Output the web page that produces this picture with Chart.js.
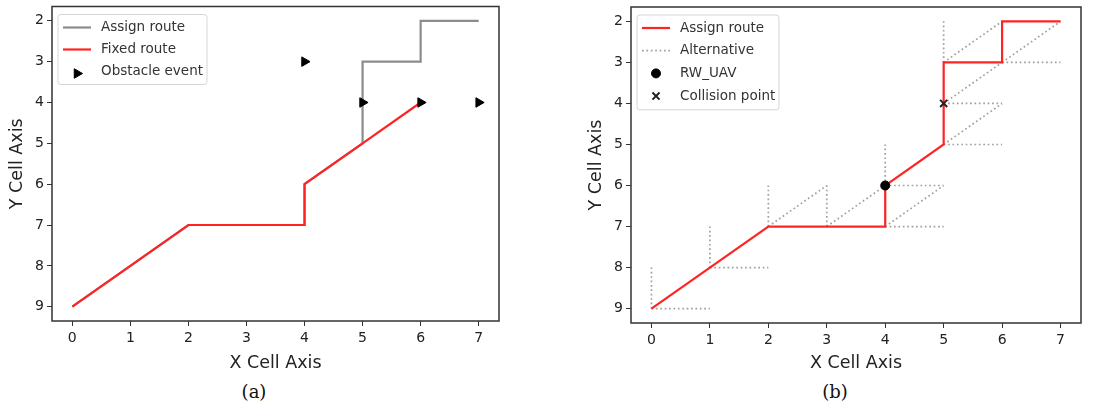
<!DOCTYPE html>
<html lang="en">
<head>
<meta charset="UTF-8">
<title>Routes</title>
<script src="https://cdn.jsdelivr.net/npm/chart.js@4.4.1/dist/chart.umd.min.js"></script>
<style>
  body { margin: 0; background: #fff; width: 1115px; height: 406px; position: relative; overflow: hidden; }
  .box { position: absolute; top: 0; height: 375px; }
  .cap { position: absolute; top: 381px; font-family: "DejaVu Serif", "Liberation Serif", serif; font-size: 18px; color: #111; transform: translateX(-50%); }
</style>
</head>
<body>
<div class="box" style="left:0;width:510px"><canvas id="chartA"></canvas></div>
<div class="box" style="left:579px;width:512px"><canvas id="chartB"></canvas></div>
<div class="cap" style="left:254px">(a)</div>
<div class="cap" style="left:835px">(b)</div>
<script>
// tick labels
var xTicks = [0, 1, 2, 3, 4, 5, 6, 7];
var yTicks = [2, 3, 4, 5, 6, 7, 8, 9];

// (a)
var assignXa = [0, 1, 2, 3, 4, 4, 5, 5, 5, 6, 6, 7];
var assignYa = [9, 8, 7, 7, 7, 6, 5, 4, 3, 3, 2, 2];
var fixedXa = [0, 1, 2, 3, 4, 4, 5, 6];
var fixedYa = [9, 8, 7, 7, 7, 6, 5, 4];
var obstacleX = [4, 5, 6, 7];
var obstacleY = [3, 4, 4, 4];

// (b)
var routeX = [0, 1, 2, 3, 4, 4, 5, 5, 5, 6, 6, 7];
var routeY = [9, 8, 7, 7, 7, 6, 5, 4, 3, 3, 2, 2];
var altFromX = [0, 0, 1, 1, 2, 2, 3, 3, 4, 4, 4, 4, 5, 5, 5, 5, 5, 5, 6, 6];
var altFromY = [9, 9, 8, 8, 7, 7, 7, 7, 7, 7, 6, 6, 5, 5, 4, 4, 3, 3, 3, 3];
var altToX   = [1, 0, 2, 1, 2, 3, 3, 4, 5, 5, 5, 4, 6, 6, 6, 6, 5, 6, 7, 7];
var altToY   = [9, 8, 8, 7, 6, 6, 6, 6, 7, 6, 6, 5, 5, 4, 4, 3, 2, 2, 3, 2];
var uavX = [4], uavY = [6];
var collisionX = [5], collisionY = [4];

function pts(xs, ys) {
  return xs.map(function (x, i) { return { x: x, y: ys[i] }; });
}
function segs(x0, y0, x1, y1) {
  var out = [];
  for (var i = 0; i < x0.length; i++) {
    out.push({ x: x0[i], y: y0[i] }, { x: x1[i], y: y1[i] }, { x: x1[i], y: null });
  }
  return out;
}

var ink = '#222';
var font = 'DejaVu Sans';

// frame round the plot, like matplotlib spines
var framePlugin = {
  id: 'frame',
  afterDraw: function (chart) {
    var a = chart.chartArea, c = chart.ctx;
    c.save();
    c.strokeStyle = '#333';
    c.lineWidth = 1.5;
    c.strokeRect(a.left, a.top, a.right - a.left, a.bottom - a.top);
    c.restore();
  }
};

// legend box inside the plot, upper left
var boxLegend = {
  id: 'boxLegend',
  afterDraw: function (chart, args, opts) {
    var c = chart.ctx, a = chart.chartArea;
    var ds = chart.data.datasets.filter(function (d) { return d.label; });
    var x0 = a.left + opts.dx, y0 = a.top + opts.dy;
    var rowH = opts.rowH, w = opts.width, h = ds.length * rowH + 4;
    c.save();
    c.fillStyle = 'rgba(255,255,255,0.85)';
    c.strokeStyle = '#d6d6d6';
    c.lineWidth = 1;
    c.beginPath();
    c.roundRect(x0, y0, w, h, 3);
    c.fill();
    c.stroke();
    c.font = '13.5px "' + font + '"';
    c.textBaseline = 'middle';
    ds.forEach(function (d, i) {
      var cy = y0 + 13 + i * rowH;
      if (d.showLine !== false) {
        c.strokeStyle = d.borderColor;
        c.lineWidth = d.borderWidth;
        c.setLineDash(d.borderDash || []);
        c.beginPath();
        c.moveTo(x0 + 5, cy);
        c.lineTo(x0 + 33, cy);
        c.stroke();
        c.setLineDash([]);
      } else {
        c.fillStyle = d.pointBackgroundColor;
        c.strokeStyle = d.pointBorderColor;
        c.lineWidth = d.pointBorderWidth;
        Chart.helpers.drawPoint(c, {
          pointStyle: d.pointStyle, rotation: d.pointRotation || 0,
          radius: d.pointRadius, borderWidth: d.pointBorderWidth
        }, x0 + 19, cy + (d.legendShift || 0));
      }
      c.fillStyle = '#333';
      c.fillText(d.label, x0 + 43, cy);
    });
    c.restore();
  }
};

function baseOptions(bottomH, legendW, rowH) {
  return {
    responsive: true,
    maintainAspectRatio: false,
    animation: false,
    layout: { padding: { top: 6, right: 11, left: 0, bottom: 0 } },
    plugins: {
      legend: { display: false },
      tooltip: { enabled: false },
      boxLegend: { dx: 6, dy: 8, width: legendW, rowH: rowH }
    },
    scales: {
      x: {
        type: 'linear', min: -0.35, max: 7.35,
        afterBuildTicks: function (s) { s.ticks = xTicks.map(function (v) { return { value: v }; }); },
        afterFit: function (s) { s.height = bottomH; s.paddingLeft = 0; s.paddingRight = 0; },
        grid: { drawOnChartArea: false, tickLength: 5, tickColor: '#333', tickWidth: 1 },
        border: { display: false },
        ticks: { color: ink, font: { family: font, size: 14 }, padding: 4 },
        title: { display: true, text: 'X Cell Axis', color: ink, font: { family: font, size: 17.5 }, padding: { top: 4, bottom: 1 } }
      },
      y: {
        type: 'linear', min: 1.65, max: 9.35, reverse: true,
        afterBuildTicks: function (s) { s.ticks = yTicks.map(function (v) { return { value: v }; }); },
        afterFit: function (s) { s.width = 52; s.paddingTop = 0; s.paddingBottom = 0; },
        grid: { drawOnChartArea: false, tickLength: 5, tickColor: '#333', tickWidth: 1 },
        border: { display: false },
        ticks: { color: ink, font: { family: font, size: 14 }, padding: 3 },
        title: { display: true, text: 'Y Cell Axis', color: ink, font: { family: font, size: 17.5 }, padding: { top: 7, bottom: 4 } }
      }
    }
  };
}

var optsA = baseOptions(54, 149, 22);
new Chart(document.getElementById('chartA'), {
  type: 'scatter',
  data: {
    datasets: [
      {
        label: 'Assign route', data: pts(assignXa, assignYa), showLine: true,
        borderColor: '#8c8c8c', borderWidth: 2.2, pointRadius: 0, order: 3
      },
      {
        label: 'Fixed route', data: pts(fixedXa, fixedYa), showLine: true,
        borderColor: '#ff2424', borderWidth: 2.2, pointRadius: 0, order: 2
      },
      {
        label: 'Obstacle event', data: pts(obstacleX, obstacleY), showLine: false,
        pointStyle: 'triangle', pointRotation: 90, pointRadius: 5.5,
        pointBackgroundColor: '#000', pointBorderColor: '#000', pointBorderWidth: 1,
        legendShift: 2, order: 1
      }
    ]
  },
  options: optsA,
  plugins: [framePlugin, boxLegend]
});

var optsB = baseOptions(52, 142, 22.7);
optsB.layout.padding.right = 10;
new Chart(document.getElementById('chartB'), {
  type: 'scatter',
  data: {
    datasets: [
      {
        label: 'Assign route', data: pts(routeX, routeY), showLine: true,
        borderColor: '#ff2424', borderWidth: 2.2, pointRadius: 0, order: 2
      },
      {
        label: 'Alternative', data: segs(altFromX, altFromY, altToX, altToY), showLine: true, spanGaps: false,
        borderColor: '#a0a0a0', borderWidth: 1.7, borderDash: [1.7, 2.7], pointRadius: 0, order: 3
      },
      {
        label: 'RW_UAV', data: pts(uavX, uavY), showLine: false,
        pointStyle: 'circle', pointRadius: 4.5,
        pointBackgroundColor: '#000', pointBorderColor: '#000', pointBorderWidth: 1, order: 1
      },
      {
        label: 'Collision point', data: pts(collisionX, collisionY), showLine: false,
        pointStyle: 'crossRot', pointRadius: 5,
        pointBackgroundColor: '#000', pointBorderColor: '#222', pointBorderWidth: 2, order: 0
      }
    ]
  },
  options: optsB,
  plugins: [framePlugin, boxLegend]
});
</script>
</body>
</html>
